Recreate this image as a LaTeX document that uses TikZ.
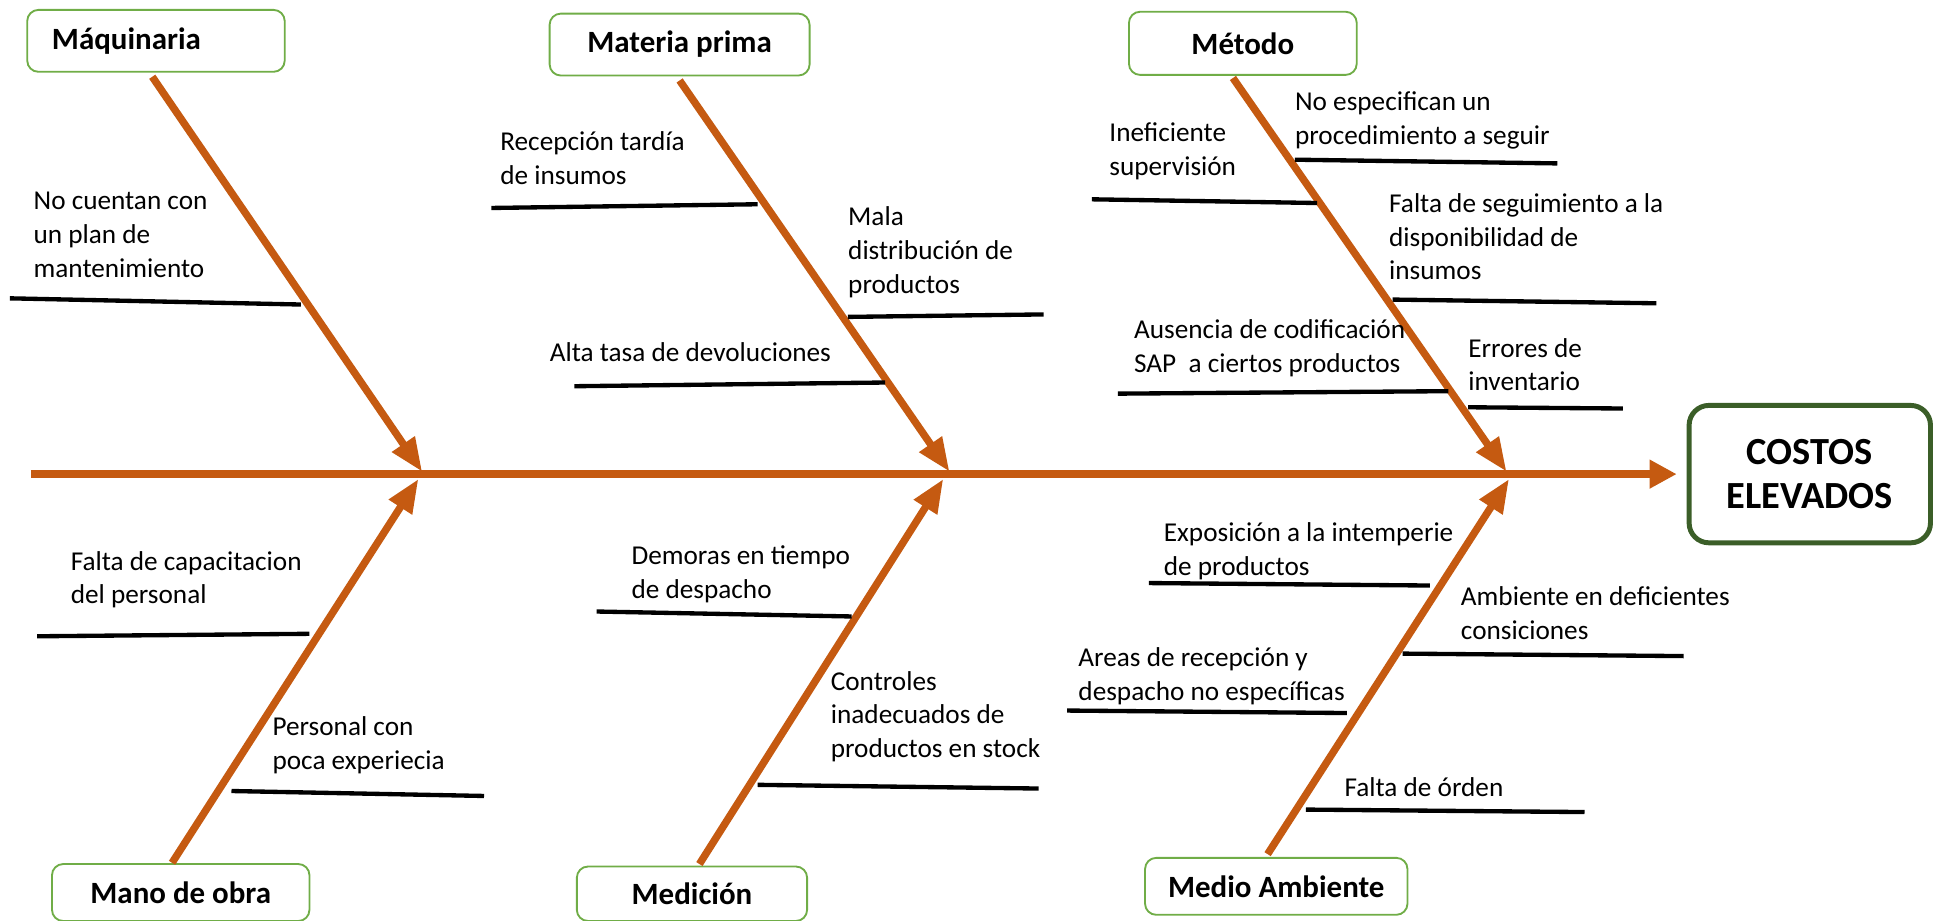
\documentclass[tikz,border=0pt]{standalone}
\usepackage{fontspec}
\setmainfont{Carlito}
\usetikzlibrary{arrows.meta}
\definecolor{bonec}{HTML}{C55A11}
\definecolor{boxg}{HTML}{70AD47}
\definecolor{effg}{HTML}{3B5E28}
\begin{document}
\begin{tikzpicture}[x=1pt,y=-1pt,
  bone/.style={draw=bonec, line width=6pt, -{Triangle[length=27pt,width=21pt]}},
  spine/.style={draw=bonec, line width=6pt, -{Triangle[length=22pt,width=22pt]}},
  subl/.style={draw=black, line width=3.5pt},
  cat/.style={draw=boxg, line width=1.5pt, rounded corners=9pt, fill=white, inner sep=0pt,
    font=\fontsize{25}{29}\selectfont\bfseries},
  effect/.style={draw=effg, line width=4pt, rounded corners=16pt, fill=white, inner sep=0pt,
    align=center, minimum width=195pt, minimum height=111pt, font=\fontsize{31}{35}\selectfont\bfseries},
  txt/.style={anchor=north west, yshift=15pt, inner sep=0pt, align=left,
    font=\fontsize{22}{27.3}\selectfont, execute at begin node=\strut}]
\useasboundingbox (0,0) rectangle (1568,744);

% category boxes
\node[cat, minimum width=208pt, minimum height=50pt, text width=168pt, align=left] (mq) at (126,33) {Máquinaria};
\node[cat, minimum width=210pt, minimum height=50pt] (mp) at (549,36) {Materia prima};
\node[cat, minimum width=184pt, minimum height=51pt] (me) at (1004,35) {Método};
\node[cat, minimum width=208pt, minimum height=46pt] (mo) at (146,721) {Mano de obra};
\node[cat, minimum width=186pt, minimum height=44pt] (md) at (559,722) {Medición};
\node[cat, minimum width=212pt, minimum height=46pt] (ma) at (1031,716) {Medio Ambiente};

% effect
\node[effect] (eff) at (1462,383) {COSTOS\\ELEVADOS};

% spine
\coordinate (sp0) at (25,383);
\draw[spine, shorten >=8pt] (sp0) -- (eff.west);

% bone endpoints
\coordinate (mqs) at (123,62);   \coordinate (mqt) at (341,381);
\coordinate (mps) at (549,65);   \coordinate (mpt) at (767,381);
\coordinate (mes) at (996,63);   \coordinate (met) at (1217,381);
\coordinate (mos) at (139,697);  \coordinate (mot) at (338,387);
\coordinate (mds) at (565,698);  \coordinate (mdt) at (762,387);
\coordinate (mas) at (1024,690); \coordinate (mat) at (1219,387);

\draw[bone] (mqs) -- (mqt);
\draw[bone] (mps) -- (mpt);
\draw[bone] (mes) -- (met);
\draw[bone] (mos) -- (mot);
\draw[bone] (mds) -- (mdt);
\draw[bone] (mas) -- (mat);

% sub-cause lines
\coordinate (a1) at (8,241);     \coordinate (b1) at (243,246);
\coordinate (a2) at (397,168);   \coordinate (b2) at (612,165);
\coordinate (a3) at (685,256);   \coordinate (b3) at (843,254);
\coordinate (a4) at (464,312);   \coordinate (b4) at (715,309);
\coordinate (a5) at (882,161);   \coordinate (b5) at (1064,164);
\coordinate (a6) at (1046,129);  \coordinate (b6) at (1258,132);
\coordinate (a7) at (1125,242);  \coordinate (b7) at (1338,245);
\coordinate (a8) at (903,318);   \coordinate (b8) at (1170,316);
\coordinate (a9) at (1186,329);  \coordinate (b9) at (1311,330);
\coordinate (a10) at (30,514);   \coordinate (b10) at (250,512);
\coordinate (a11) at (187,639);  \coordinate (b11) at (391,643);
\coordinate (a12) at (482,494);  \coordinate (b12) at (688,498);
\coordinate (a13) at (612,634);  \coordinate (b13) at (839,637);
\coordinate (a14) at (928,471);  \coordinate (b14) at (1155,473);
\coordinate (a15) at (1133,528); \coordinate (b15) at (1360,530);
\coordinate (a16) at (862,574);  \coordinate (b16) at (1088,576);
\coordinate (a17) at (1055,654); \coordinate (b17) at (1280,656);
\foreach \i in {1,...,17} { \draw[subl] (a\i) -- (b\i); }

% texts
\node[txt] (t1) at (27,170) {No cuentan con\\un plan de\\mantenimiento};
\node[txt] (t2) at (404,121) {Recepción tardía\\de insumos};
\node[txt] (t3) at (685,182) {Mala\\distribución de\\productos};
\node[txt] (t4) at (444,288) {Alta tasa de devoluciones};
\node[txt] (t5) at (896,114) {Ineficiente\\supervisión};
\node[txt] (t6) at (1046,89) {No especifican un\\procedimiento a seguir};
\node[txt] (t7) at (1122,171) {Falta de seguimiento a la\\disponibilidad de\\insumos};
\node[txt] (t8) at (916,273) {Ausencia de codificación\\SAP~ a ciertos productos};
\node[txt] (t9) at (1186,288) {Errores de\\inventario};
\node[txt] (t10) at (57,460) {Falta de capacitacion\\del personal};
\node[txt] (t11) at (220,594) {Personal con\\poca experiecia};
\node[txt] (t12) at (510,456) {Demoras en tiempo\\de despacho};
\node[txt] (t13) at (671,557) {Controles\\inadecuados de\\productos en stock};
\node[txt] (t14) at (940,437) {Exposición a la intemperie\\de productos};
\node[txt] (t15) at (1180,489) {Ambiente en deficientes\\consiciones};
\node[txt] (t16) at (871,538) {Areas de recepción y\\despacho no específicas};
\node[txt] (t17) at (1086,639) {Falta de órden};
\end{tikzpicture}
\end{document}
